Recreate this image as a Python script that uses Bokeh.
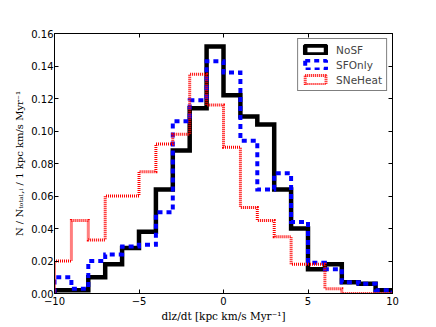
from bokeh.plotting import figure
from bokeh.models import (Range1d, FixedTicker, PrintfTickFormatter, LinearAxis,
                          Legend, LegendItem)
from bokeh.embed import file_html
from bokeh.resources import INLINE

# ---- data ----
bin_edges = list(range(-10, 11))
nosf = [0.002, 0.002, 0.010, 0.018, 0.028, 0.038, 0.064, 0.088, 0.114, 0.152,
        0.122, 0.109, 0.104, 0.064, 0.040, 0.015, 0.018, 0.007, 0.006, 0.002]
sfonly = [0.010, 0.003, 0.020, 0.024, 0.029, 0.030, 0.050, 0.106, 0.119, 0.143,
          0.136, 0.094, 0.064, 0.074, 0.044, 0.019, 0.015, 0.007, 0.006, 0.002]
sneheat = [0.020, 0.045, 0.033, 0.060, 0.060, 0.075, 0.092, 0.098, 0.135, 0.116,
           0.090, 0.053, 0.045, 0.035, 0.018, 0.018, 0.003, 0.0, 0.0, 0.0]
series_names = ["NoSF", "SFOnly", "SNeHeat"]
x_ticks = [-10, -5, 0, 5, 10]
y_ticks = [0.00, 0.02, 0.04, 0.06, 0.08, 0.10, 0.12, 0.14, 0.16]


def step_xy(edges, vals):
    xs = [edges[0]]
    ys = [0.0]
    for i, v in enumerate(vals):
        xs += [edges[i], edges[i + 1]]
        ys += [v, v]
    xs.append(edges[-1])
    ys.append(0.0)
    return xs, ys


p = figure(width=436, height=327,
           x_range=Range1d(-10, 10), y_range=Range1d(0, 0.16),
           output_backend="svg", toolbar_location=None,
           min_border_left=54, min_border_right=44, min_border_top=33,
           min_border_bottom=34)
p.background_fill_color = "white"
p.border_fill_color = "white"
p.grid.visible = False
p.outline_line_color = "black"
p.outline_line_width = 1

styles = [
    dict(line_color="black", line_width=4.5, line_dash="solid", line_alpha=1.0),
    dict(line_color="#0000ff", line_width=4, line_dash="5 4", line_alpha=1.0),
    dict(line_color="#ff0000", line_width=3, line_dash="1 1", line_alpha=1.0),
]

items = []
for name, vals, st in zip(series_names, [nosf, sfonly, sneheat], styles):
    xs, ys = step_xy(bin_edges, vals)
    p.line(xs, ys, line_join="miter", line_cap="butt", **st)
    # off-screen proxy for the legend's outlined box
    proxy = p.quad(left=[100], right=[101], bottom=[1], top=[2],
                   fill_alpha=0, **st)
    items.append(LegendItem(label=name, renderers=[proxy]))

legend = Legend(items=items, location="top_right")
legend.margin = 5
legend.padding = 4
legend.spacing = 2
legend.glyph_width = 26
legend.glyph_height = 11
legend.label_height = 13
legend.label_standoff = 8
legend.label_text_font = "DejaVu Sans"
legend.label_text_font_size = "10.5px"
legend.border_line_color = "black"
legend.border_line_width = 1
legend.background_fill_alpha = 1
p.add_layout(legend)

for ax in p.xaxis + p.yaxis:
    ax.major_tick_in = 4
    ax.major_tick_out = 0
    ax.minor_tick_in = 0
    ax.minor_tick_out = 0
    ax.axis_line_color = "black"
    ax.major_label_text_font = "DejaVu Sans"
    ax.major_label_text_font_size = "10px"
    ax.major_label_text_color = "black"
    ax.axis_label_text_font = "DejaVu Serif"
    ax.axis_label_text_font_style = "normal"
    ax.axis_label_text_font_size = "10.5px"
    ax.axis_label_text_color = "black"

p.xaxis.ticker = FixedTicker(ticks=x_ticks)
p.yaxis.ticker = FixedTicker(ticks=y_ticks)
p.yaxis.formatter = PrintfTickFormatter(format="%.2f")
p.xaxis.major_label_standoff = 3
p.yaxis.major_label_standoff = 1
p.xaxis.axis_label_standoff = 2
p.yaxis.axis_label_standoff = 3
p.xaxis.axis_label = "dlz/dt [kpc km/s Myr⁻¹]"
p.yaxis.axis_label = "N / Nₜₒₜₐₗ,ᵢ / 1 kpc km/s Myr⁻¹"
p.yaxis.axis_label_text_font_size = "10px"

top_ax = LinearAxis(ticker=FixedTicker(ticks=x_ticks),
                    major_label_overrides={t: "" for t in x_ticks},
                    major_tick_in=4, major_tick_out=0, minor_tick_in=0, minor_tick_out=0,
                    major_label_standoff=0)
right_ax = LinearAxis(ticker=FixedTicker(ticks=y_ticks),
                      major_label_overrides={t: "" for t in y_ticks},
                      major_tick_in=4, major_tick_out=0, minor_tick_in=0, minor_tick_out=0,
                      major_label_standoff=0)
p.add_layout(top_ax, "above")
p.add_layout(right_ax, "right")

open("out.html", "w").write(file_html(p, INLINE))
